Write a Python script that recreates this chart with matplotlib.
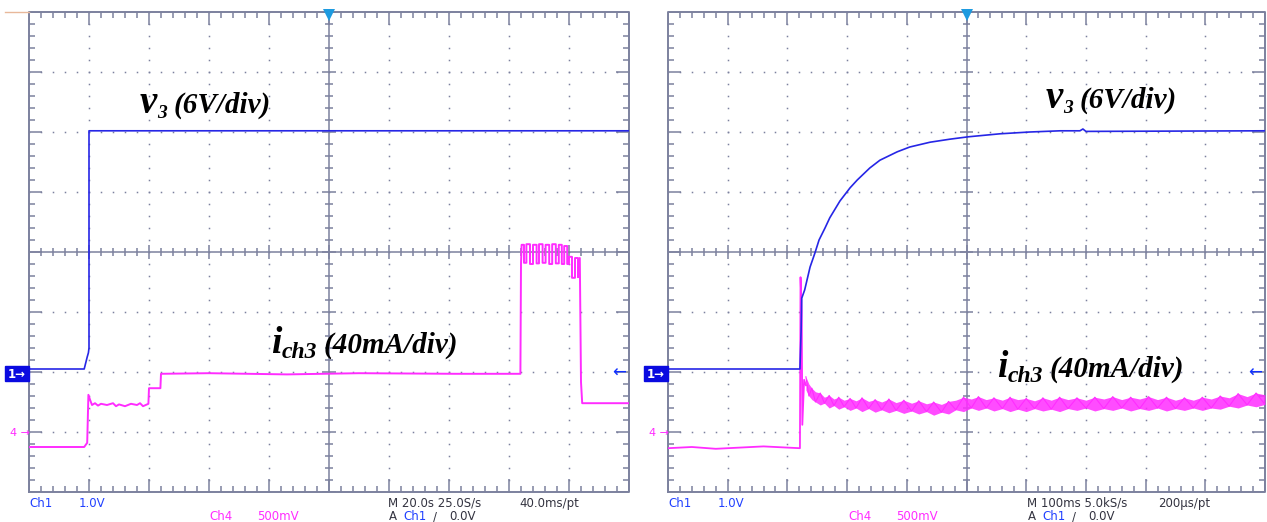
import matplotlib.pyplot as plt
import numpy as np

W, H = 1267, 522

# ---- left capture (20 s/div), values in scope divisions ----
v3_left_t = [0, 0.92, 0.95, 0.97, 0.99, 1.0, 1.0, 10]
v3_left_v = [-1.95, -1.95, -1.83, -1.75, -1.68, -1.6, 2.02, 2.02]

ich_left_t = [0, 0.92, 0.97, 0.99, 1.02, 1.05, 1.1, 1.15, 1.2, 1.3, 1.4, 1.45, 1.5,
              1.6, 1.7, 1.8, 1.85, 1.9, 1.99, 2.0, 2.19, 2.2, 3.0, 4.3, 5.5, 7.1, 8.19,
              8.2, 8.21, 8.25, 8.25, 8.29, 8.29, 8.35, 8.35, 8.4, 8.4, 8.46, 8.46,
              8.5, 8.5, 8.56, 8.56, 8.61, 8.61, 8.67, 8.67, 8.72, 8.72, 8.78, 8.78,
              8.83, 8.83, 8.88, 8.88, 8.92, 8.92, 8.97, 8.97, 9.0, 9.0, 9.05, 9.05,
              9.1, 9.1, 9.15, 9.15, 9.18, 9.2, 9.22, 10]
ich_left_v = [-3.25, -3.25, -3.18, -2.38, -2.47, -2.55, -2.52, -2.56, -2.53, -2.55, -2.52,
              -2.57, -2.54, -2.57, -2.53, -2.55, -2.52, -2.57, -2.53, -2.27, -2.27, -2.03,
              -2.02, -2.04, -2.02, -2.03, -2.03,
              -0.2, 0.12, 0.12, -0.18, -0.18, 0.13, 0.13, -0.2, -0.2, 0.12, 0.12, -0.19,
              -0.19, 0.13, 0.13, -0.18, -0.18, 0.12, 0.12, -0.2, -0.2, 0.13, 0.13, -0.19,
              -0.19, 0.12, 0.12, -0.2, -0.2, 0.1, 0.1, -0.2, -0.2, -0.08, -0.08, -0.43,
              -0.43, -0.1, -0.1, -0.42, -0.1, -2.17, -2.52, -2.52]

# ---- right capture (100 ms/div) ----
v3_right_t = [0, 2.21, 2.23, 2.24, 2.29, 2.38, 2.46, 2.53, 2.63, 2.71, 2.88, 3.05, 3.17,
              3.38, 3.55, 3.84, 4.05, 4.39, 4.72, 5.03, 5.56, 6.06, 6.57, 6.9, 6.95, 7.0, 10]
v3_right_v = [-1.95, -1.95, -1.3, -0.77, -0.63, -0.25, -0.02, 0.2, 0.4, 0.57, 0.85, 1.07,
              1.2, 1.4, 1.53, 1.67, 1.75, 1.83, 1.88, 1.92, 1.97, 2.0, 2.02, 2.02, 2.05,
              2.01, 2.02]

ich_right_t = [0, 0.4, 0.8, 1.2, 1.6, 2.0, 2.21, 2.22, 2.24, 2.25, 2.28, 2.31]
ich_right_v = [-3.27, -3.25, -3.28, -3.26, -3.24, -3.26, -3.27, -0.42, -1.0, -2.88, -2.13, -2.22]

# noisy current after the step: upper and lower edge of the trace
band_t = [2.31, 2.36, 2.41, 2.47, 2.55, 2.62, 2.7, 2.78, 2.86, 2.95, 3.05, 3.15, 3.25,
          3.36, 3.47, 3.58, 3.7, 3.82, 3.95, 4.08, 4.2, 4.33, 4.45, 4.58, 4.7, 4.82, 4.95,
          5.08, 5.2, 5.33, 5.46, 5.6, 5.73, 5.86, 6.0, 6.14, 6.28, 6.42, 6.56, 6.7, 6.85,
          7.0, 7.15, 7.3, 7.45, 7.6, 7.75, 7.9, 8.05, 8.2, 8.35, 8.5, 8.65, 8.8, 8.95,
          9.1, 9.25, 9.4, 9.55, 9.7, 9.85, 10.0]
band_hi = [-2.08, -2.2, -2.27, -2.33, -2.35, -2.42, -2.39, -2.45, -2.42, -2.47, -2.44,
           -2.48, -2.43, -2.49, -2.46, -2.5, -2.45, -2.51, -2.47, -2.52, -2.48, -2.53,
           -2.5, -2.54, -2.49, -2.47, -2.42, -2.45, -2.41, -2.46, -2.43, -2.47, -2.42,
           -2.46, -2.44, -2.48, -2.43, -2.47, -2.42, -2.46, -2.43, -2.47, -2.42, -2.45,
           -2.41, -2.46, -2.42, -2.45, -2.41, -2.46, -2.42, -2.47, -2.43, -2.47, -2.42,
           -2.45, -2.4, -2.43, -2.36, -2.41, -2.35, -2.38]
band_lo = [-2.3, -2.4, -2.46, -2.5, -2.55, -2.52, -2.6, -2.56, -2.62, -2.58, -2.64, -2.6,
           -2.66, -2.61, -2.67, -2.63, -2.68, -2.64, -2.69, -2.65, -2.7, -2.66, -2.72,
           -2.67, -2.7, -2.63, -2.66, -2.6, -2.64, -2.6, -2.65, -2.61, -2.66, -2.62, -2.66,
           -2.61, -2.65, -2.62, -2.66, -2.61, -2.64, -2.6, -2.65, -2.61, -2.64, -2.6,
           -2.65, -2.61, -2.64, -2.6, -2.65, -2.61, -2.64, -2.6, -2.64, -2.6, -2.62, -2.57,
           -2.6, -2.55, -2.58, -2.54]

GRID = '#7c819e'
BLUE = '#2626e6'
PINK = '#ff2cff'
SERIF = 'Liberation Serif'


def graticule(ax):
    ax.set_xlim(0, 10)
    ax.set_ylim(-4, 4)
    ax.axis('off')
    ax.plot([0, 10, 10, 0, 0], [-4, -4, 4, 4, -4], color=GRID, lw=1.4, clip_on=False)
    fx = np.round(np.arange(0, 10.01, 0.2), 2)
    fy = np.round(np.arange(-4, 4.01, 0.2), 2)
    for k in [1, 2, 3, 4, 6, 7, 8, 9]:
        ax.plot(np.full_like(fy, k), fy, ls='none', marker='s', ms=1.1, mew=0, color=GRID)
    for k in [-3, -2, -1, 1, 2, 3]:
        ax.plot(fx, np.full_like(fx, k), ls='none', marker='s', ms=1.1, mew=0, color=GRID)
    ax.plot([0, 10], [0, 0], color=GRID, lw=1.1)
    ax.plot([5, 5], [-4, 4], color=GRID, lw=1.1)
    xm = np.isclose(fx, np.round(fx))
    ym = np.isclose(fy, np.round(fy))
    xl = np.where(xm, 0.21, 0.1)
    yl = np.where(ym, 0.21, 0.1)
    xc = np.where(xm, 0.11, 0.06)
    yc = np.where(ym, 0.11, 0.06)
    ax.vlines(fx, 4 - xl, 4, color=GRID, lw=1.1)
    ax.vlines(fx, -4, -4 + xl, color=GRID, lw=1.1)
    ax.vlines(fx, -xc, xc, color=GRID, lw=1.1)
    ax.hlines(fy, 0, yl, color=GRID, lw=1.1)
    ax.hlines(fy, 10 - yl, 10, color=GRID, lw=1.1)
    ax.hlines(fy, 5 - yc, 5 + yc, color=GRID, lw=1.1)
    ax.plot([5], [3.95], marker='v', ms=8, color='#1e9be0', mew=0, clip_on=False, zorder=5)


def ftext(px, py, s, **kw):
    fig.text(px / W, 1 - py / H, s, **kw)


def label(px, py, main, sub, rest, big, bsub):
    font = dict(family=SERIF, weight='bold', style='italic', va='baseline', ha='left')
    t1 = fig.text(px / W, 1 - py / H, main, size=big, **font)
    fig.canvas.draw()
    r = fig.canvas.get_renderer()
    bb = t1.get_window_extent(r)
    t2 = fig.text(bb.x1 / W, 1 - (py + 5) / H, sub, size=bsub, **font)
    bb2 = t2.get_window_extent(r)
    fig.text((bb2.x1 + 7) / W, 1 - py / H, rest, size=21, **font)


def footer(x0, ch4x, mx, mtext, rate):
    small = dict(size=8.5, family='DejaVu Sans', va='baseline', ha='left')
    ftext(x0, 507, 'Ch1', color='#2040ff', **small)
    ftext(x0 + 50, 507, '1.0V', color='#2040ff', **small)
    ftext(ch4x, 520, 'Ch4', color=PINK, **small)
    ftext(ch4x + 48, 520, '500mV', color=PINK, **small)
    ftext(mx, 507, mtext, color='#333340', **small)
    ftext(mx + 131, 507, rate, color='#333340', **small)
    ftext(mx + 1, 520, 'A', color='#333340', **small)
    ftext(mx + 15, 520, 'Ch1', color='#2040ff', **small)
    ftext(mx + 45, 520, '/', color='#333340', **small)
    ftext(mx + 61, 520, '0.0V', color='#333340', **small)


def side_marks(x0, x1):
    fig.patches.append(plt.Rectangle(((x0 - 24) / W, 1 - 381 / H), 24 / W, 15 / H,
                                     transform=fig.transFigure, color='#0a0ae0'))
    ftext(x0 - 21, 378, '1\u2192', color='white', size=8.5, weight='bold')
    ftext(x0 - 19, 436, '4 \u2192', color=PINK, size=8)
    ftext(x1 - 17, 378, '\u2190', color='#1030ff', size=12)


fig = plt.figure(figsize=(W / 100, H / 100), dpi=100)
ax1 = fig.add_axes([29 / W, 30 / H, 600 / W, 480 / H])
ax2 = fig.add_axes([668 / W, 30 / H, 597 / W, 480 / H])

for ax in (ax1, ax2):
    graticule(ax)

ax1.plot(v3_left_t, v3_left_v, color=BLUE, lw=1.2, zorder=4)
ax1.plot(ich_left_t, ich_left_v, color=PINK, lw=1.4, zorder=3)

ax2.plot(ich_right_t, ich_right_v, color=PINK, lw=1.3, zorder=3)
ax2.fill_between(band_t, band_lo, band_hi, color=PINK, alpha=0.85, lw=0, zorder=3)
zig = [h if i % 2 == 0 else l for i, (h, l) in enumerate(zip(band_hi, band_lo))]
ax2.plot(band_t, zig, color=PINK, lw=0.8, zorder=3)
ax2.plot(v3_right_t, v3_right_v, color=BLUE, lw=1.2, zorder=4)

label(140, 113, 'v', '3', '(6V/div)', 28, 14)
label(1046, 108, 'v', '3', '(6V/div)', 28, 14)
label(271, 353, 'i', 'ch3', '(40mA/div)', 27, 17)
label(997, 377, 'i', 'ch3', '(40mA/div)', 27, 17)

footer(29, 209, 388, 'M 20.0s 25.0S/s', '40.0ms/pt')
footer(668, 848, 1027, 'M 100ms 5.0kS/s', '200\u00b5s/pt')
side_marks(29, 629)
side_marks(668, 1265)

fig.add_artist(plt.Line2D([5 / W, 29 / W], [1 - 12 / H, 1 - 12 / H], color='#e8b89a', lw=1))

fig.savefig('out.png', dpi=100, facecolor='white')
